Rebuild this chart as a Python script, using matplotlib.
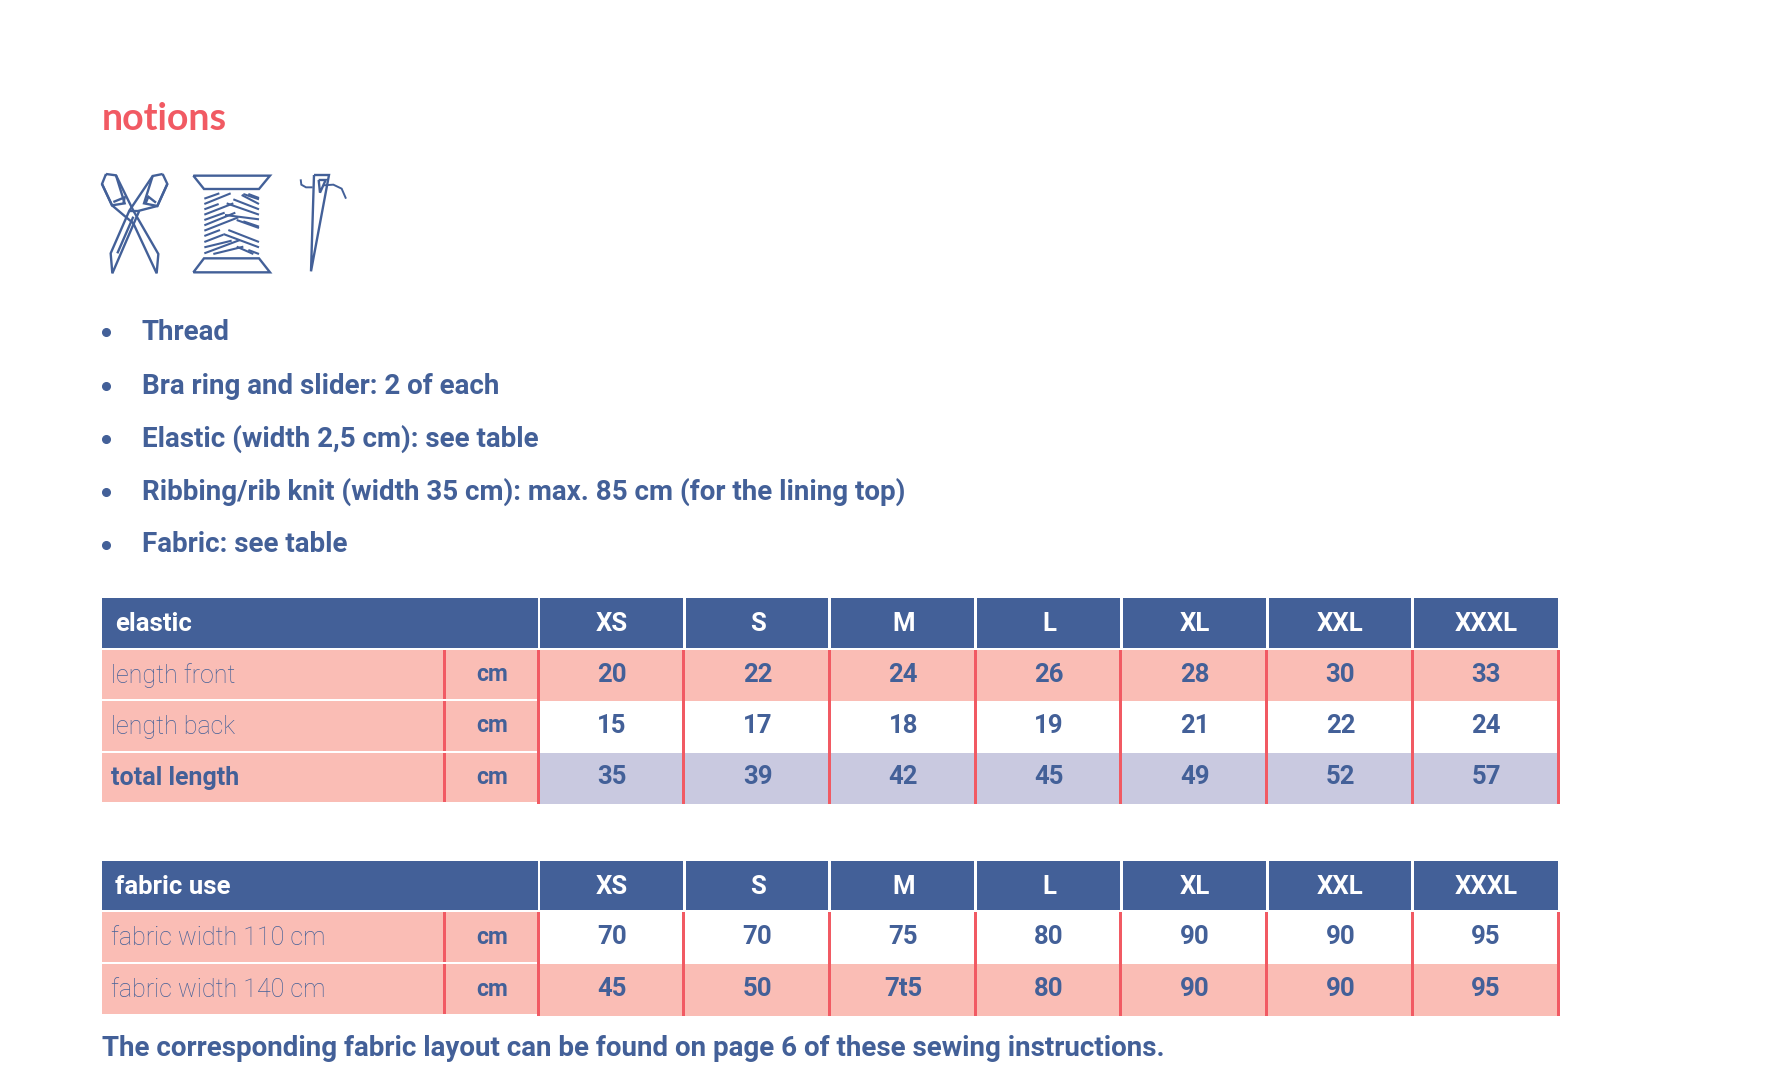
import matplotlib
matplotlib.use("Agg")
import matplotlib.pyplot as plt
from matplotlib.patches import Rectangle, Polygon

# colores
AZUL = "#436098"
ROSA = "#FABDB5"
ROJO = "#F15A63"
LILA = "#C9C9E0"

# datos
tallas = ["XS", "S", "M", "L", "XL", "XXL", "XXXL"]
bullets = [
    "Thread",
    "Bra ring and slider: 2 of each",
    "Elastic (width 2,5 cm): see table",
    "Ribbing/rib knit (width 35 cm): max. 85 cm (for the lining top)",
    "Fabric: see table",
]
elastic_labels = ["length front", "length back", "total length"]
elastic_front = ["20", "22", "24", "26", "28", "30", "33"]
elastic_back = ["15", "17", "18", "19", "21", "22", "24"]
elastic_total = ["35", "39", "42", "45", "49", "52", "57"]
fabric_labels = ["fabric width 110 cm", "fabric width 140 cm"]
fabric_110 = ["70", "70", "75", "80", "90", "90", "95"]
fabric_140 = ["45", "50", "7t5", "80", "90", "90", "95"]
footer = "The corresponding fabric layout can be found on page 6 of these sewing instructions."

X0, X_UNIT, X_VAL, X_END = 102, 444, 538, 1558
ANCHO = (X_END - X_VAL) / 7

plt.rcParams["font.family"] = ["Roboto", "DejaVu Sans"]
fig = plt.figure(figsize=(17.8, 10.92), dpi=100)
ax = fig.add_axes([0, 0, 1, 1])
ax.set_xlim(0, 1780)
ax.set_ylim(1092, 0)
ax.axis("off")


def caja(x0, y0, x1, y1, color):
    ax.add_patch(Rectangle((x0, y0), x1 - x0, y1 - y0, fc=color, ec="none"))


def tabla(titulo, y_head, filas, labels, valores, fondos, negrita):
    # cabecera
    y0, y1 = y_head
    caja(X0, y0, X_VAL, y1, AZUL)
    ax.text(X0 + 13, (y0 + y1) / 2 + 1, titulo, color="white", fontsize=18.5,
            fontweight="bold", va="center")
    for i, t in enumerate(tallas):
        xa = X_VAL + i * ANCHO
        caja(xa + 2, y0, xa + ANCHO - (1 if i < 6 else 0), y1, AZUL)
        ax.text(xa + ANCHO / 2 + 1, (y0 + y1) / 2 + 1, t, color="white", fontsize=18.5,
                fontweight="bold", ha="center", va="center")
    # filas
    for (ya, yb), lab, vals, fondo, bold in zip(filas, labels, valores, fondos, negrita):
        caja(X0, ya, X_VAL, yb - 2, ROSA)
        caja(X_UNIT - 1.5, ya, X_UNIT + 1.5, yb - 2, ROJO)
        ax.text(X0 + 9, (ya + yb) / 2, lab, color=AZUL, fontsize=18,
                fontweight="bold" if bold else "light", va="center")
        ax.text((X_UNIT + X_VAL) / 2 + 1, (ya + yb) / 2 - 1, "cm", color=AZUL, fontsize=16.5,
                fontweight="bold", ha="center", va="center")
        if fondo != "white":
            caja(X_VAL, ya, X_END, yb, fondo)
        for i, v in enumerate(vals):
            ax.text(X_VAL + (i + 0.5) * ANCHO + 1, (ya + yb) / 2 - 1, v, color=AZUL,
                    fontsize=18.5, fontweight="bold", ha="center", va="center")
    # divisores rojos
    for i in range(8):
        xa = X_VAL + i * ANCHO
        caja(xa - 1.5, filas[0][0], xa + 1.5, filas[-1][1], ROJO)


# titulo
ax.text(102, 130, "notions", color=ROJO, fontsize=27, fontweight="bold",
        family=["Lato", "DejaVu Sans"], va="baseline")


# iconos, en coordenadas del zoom (3x desde 80,80)
def trazo(puntos, lw=1.7):
    xs = [80 + p[0] / 3 for p in puntos]
    ys = [80 + p[1] / 3 for p in puntos]
    ax.plot(xs, ys, color=AZUL, lw=lw, solid_joinstyle="miter", solid_capstyle="butt")


# tijeras
trazo([(78, 282), (108, 286), (160, 392), (235, 522), (230, 580), (160, 430), (96, 376), (66, 312), (78, 282)])
trazo([(66, 312), (96, 376), (134, 370), (108, 286)])
trazo([(100, 366), (134, 352), (130, 372)])
trazo([(248, 282), (218, 288), (148, 392), (92, 520), (97, 580), (178, 392), (232, 378), (262, 312), (248, 282)])
trazo([(262, 312), (232, 378), (192, 370), (218, 288)])
trazo([(228, 368), (205, 350), (196, 372)])
trazo([(112, 520), (160, 410)])
trazo([(148, 392), (178, 392)])

# carrete
trazo([(340, 287), (570, 287), (537, 327), (372, 327), (340, 287)])
trazo([(340, 577), (570, 577), (537, 535), (372, 535), (340, 577)])
hilos = [
    [(373, 356, 418, 340), (373, 372, 452, 340), (373, 388, 416, 372), (373, 404, 460, 370),
     (373, 420, 434, 398), (373, 436, 466, 398), (373, 452, 475, 412), (373, 468, 420, 450),
     (373, 486, 430, 464), (373, 502, 455, 482), (373, 520, 480, 480), (400, 522, 490, 500)],
    [(440, 370, 537, 404), (460, 358, 537, 388), (490, 342, 537, 358), (505, 342, 537, 354),
     (470, 420, 537, 444), (490, 424, 537, 440), (445, 450, 537, 486), (430, 462, 537, 502),
     (470, 500, 520, 522), (505, 510, 537, 522), (435, 405, 537, 418), (485, 345, 537, 372)],
]
for grupo in hilos:
    for a, b, c, d in grupo:
        trazo([(a, b), (c, d)], lw=1.5)

# aguja
trazo([(702, 285), (747, 285), (693, 574), (702, 285)])
trazo([(716, 300), (737, 300), (720, 338), (716, 300)])
trazo([(662, 298), (664, 314), (678, 322), (698, 322)], lw=1.4)
trazo([(730, 316), (760, 314), (785, 326), (798, 356)], lw=1.4)

# lista
for y, b in zip([332, 386, 439, 492, 545], bullets):
    ax.plot([106], [y], "o", color=AZUL, ms=5.5)
    ax.text(142, y, b, color=AZUL, fontsize=20, fontweight="bold", va="center")

tabla("elastic", (598, 648), [(650, 701), (701, 753), (753, 804)], elastic_labels,
      [elastic_front, elastic_back, elastic_total], [ROSA, "white", LILA], [False, False, True])
tabla("fabric use", (861, 910), [(912, 964), (964, 1016)], fabric_labels,
      [fabric_110, fabric_140], ["white", ROSA], [False, False])

ax.text(102, 1049, footer, color=AZUL, fontsize=20, fontweight="bold", va="center")

fig.savefig("out.png", dpi=100)
